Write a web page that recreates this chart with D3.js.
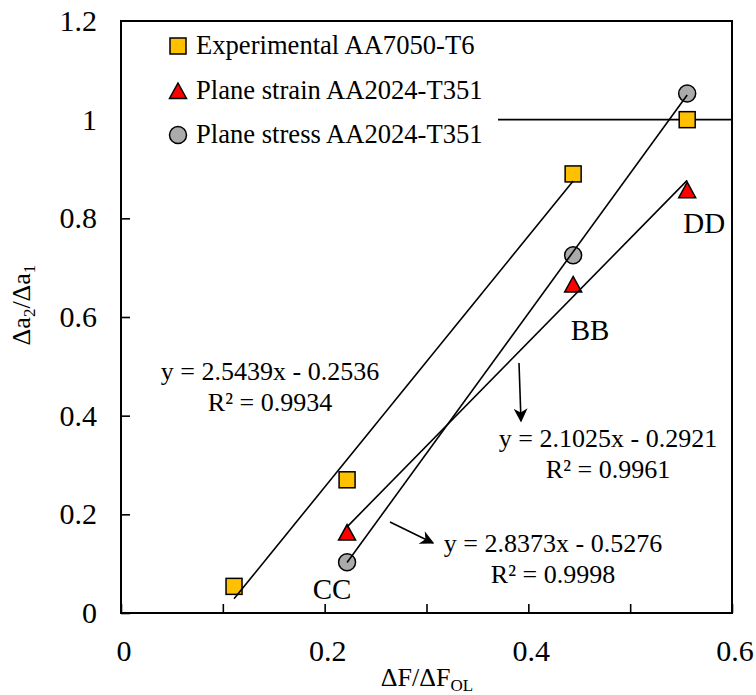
<!DOCTYPE html>
<html>
<head>
<meta charset="utf-8">
<script src="https://cdn.jsdelivr.net/npm/d3@7/dist/d3.min.js"></script>
<style>
  html, body { margin: 0; padding: 0; background: #fff; }
  svg { display: block; }
  svg text { font-family: "Liberation Serif", "DejaVu Serif", serif; }
</style>
</head>
<body>
<svg id="chart" width="756" height="695"></svg>
<script>
// Measured crack-growth ratios against load-drop ratio
const expX = [0.111, 0.222, 0.444, 0.556];
const expY = [0.054, 0.27, 0.89, 1.0];
const strainX = [0.222, 0.444, 0.556];
const strainY = [0.163, 0.666, 0.857];
const stressX = [0.222, 0.444, 0.556];
const stressY = [0.103, 0.725, 1.053];

// Linear fits: experimental (first three tests), plane strain, plane stress
const fitSlopes = [2.5439, 2.1025, 2.8373];
const fitIntercepts = [-0.2536, -0.2921, -0.5276];
const fitR2 = ["0.9934", "0.9961", "0.9998"];
const fitFrom = [0.111, 0.222, 0.222];
const fitTo = [0.444, 0.556, 0.556];

const seriesNames = ["Experimental AA7050-T6", "Plane strain AA2024-T351", "Plane stress AA2024-T351"];
const xTicks = [0, 0.1, 0.2, 0.3, 0.4, 0.5, 0.6];
const xTickLabels = ["0", "", "0.2", "", "0.4", "", "0.6"];
const yTicks = [0, 0.2, 0.4, 0.6, 0.8, 1.0, 1.2];
const yTickLabels = ["0", "0.2", "0.4", "0.6", "0.8", "1", "1.2"];
const pointLabels = ["CC", "BB", "DD"];
const pointLabelX = [0.222, 0.444, 0.556];
const refLevel = 1.0;

(function draw() {
  const svg = d3.select("#chart");
  const mLeft = 121, mRight = 732, mTop = 21, mBottom = 613;

  const x = d3.scaleLinear().domain([0, 0.6]).range([mLeft, mRight]);
  const y = d3.scaleLinear().domain([0, 1.2]).range([mBottom, mTop]);

  const fill = { sq: "#FFC000", tri: "#FF0000", circ: "#ABABAB" };

  // reference line at ratio 1
  svg.append("line")
    .attr("x1", x(0)).attr("x2", x(0.6))
    .attr("y1", y(refLevel)).attr("y2", y(refLevel))
    .attr("stroke", "#000").attr("stroke-width", 1.6);

  // axes with inward ticks
  const xAxis = d3.axisBottom(x).tickValues(xTicks).tickSize(-9).tickFormat("");
  svg.append("g").attr("transform", `translate(0,${mBottom})`).call(xAxis)
    .call(g => g.select(".domain").remove())
    .call(g => g.selectAll(".tick line").attr("stroke", "#000").attr("stroke-width", 1.6));
  const yAxis = d3.axisLeft(y).tickValues(yTicks).tickSize(-9).tickFormat("");
  svg.append("g").attr("transform", `translate(${mLeft},0)`).call(yAxis)
    .call(g => g.select(".domain").remove())
    .call(g => g.selectAll(".tick line").attr("stroke", "#000").attr("stroke-width", 1.6));

  // tick labels
  svg.append("g").selectAll("text").data(xTicks).join("text")
    .attr("x", d => x(d) + 3).attr("y", 661)
    .attr("text-anchor", "middle").attr("font-size", 30)
    .text((d, i) => xTickLabels[i]);
  svg.append("g").selectAll("text").data(yTicks).join("text")
    .attr("x", 97).attr("y", d => y(d) + 10)
    .attr("text-anchor", "end").attr("font-size", 30)
    .text((d, i) => yTickLabels[i]);

  // axis titles
  const xt = svg.append("text").attr("x", 427).attr("y", 686)
    .attr("text-anchor", "middle").attr("font-size", 26);
  xt.append("tspan").text("\u0394F/\u0394F");
  xt.append("tspan").attr("font-size", 17).attr("dy", 5).text("OL");

  const yt = svg.append("text").attr("transform", "translate(30,305) rotate(-90)")
    .attr("text-anchor", "middle").attr("font-size", 26);
  yt.append("tspan").text("\u0394a");
  yt.append("tspan").attr("font-size", 17).attr("dy", 5).text("2");
  yt.append("tspan").attr("dy", -5).text("/\u0394a");
  yt.append("tspan").attr("font-size", 17).attr("dy", 5).text("1");

  // legend box (white background hides the reference line beneath it)
  svg.append("rect").attr("x", mLeft + 1).attr("y", mTop + 1)
    .attr("width", 498 - mLeft - 1).attr("height", 135).attr("fill", "#fff");

  // marker shapes
  function square(g, cx, cy) {
    g.append("rect").attr("x", cx - 8).attr("y", cy - 8).attr("width", 16).attr("height", 16)
      .attr("fill", fill.sq).attr("stroke", "#000").attr("stroke-width", 1.5);
  }
  function triangle(g, cx, cy) {
    g.append("path")
      .attr("d", `M${cx},${cy - 8}L${cx + 8.5},${cy + 7.5}L${cx - 8.5},${cy + 7.5}Z`)
      .attr("fill", fill.tri).attr("stroke", "#000").attr("stroke-width", 1.5);
  }
  function circle(g, cx, cy) {
    g.append("circle").attr("cx", cx).attr("cy", cy).attr("r", 8.5)
      .attr("fill", fill.circ).attr("stroke", "#000").attr("stroke-width", 1.5);
  }

  // legend entries
  const leg = svg.append("g");
  const legShapes = [square, triangle, circle];
  const legY = [46, 91, 135];
  seriesNames.forEach((name, i) => {
    legShapes[i](leg, 178, legY[i]);
    leg.append("text").attr("x", 196).attr("y", legY[i] + 8)
      .attr("font-size", 26.6).text(name);
  });

  // data markers
  const pts = svg.append("g");
  expX.forEach((d, i) => square(pts, x(d), y(expY[i])));
  strainX.forEach((d, i) => triangle(pts, x(d), y(strainY[i])));
  stressX.forEach((d, i) => circle(pts, x(d), y(stressY[i])));

  // trend lines
  const fitG = svg.append("g");
  fitSlopes.forEach((m, i) => {
    const a = fitFrom[i], b = fitTo[i], c = fitIntercepts[i];
    fitG.append("line")
      .attr("x1", x(a)).attr("y1", y(m * a + c))
      .attr("x2", x(b)).attr("y2", y(m * b + c))
      .attr("stroke", "#000").attr("stroke-width", 1.6);
  });

  // fit equations
  const eqPos = [[270, 380], [608, 447], [553, 552]];
  fitSlopes.forEach((m, i) => {
    const [ex, ey] = eqPos[i];
    const sign = fitIntercepts[i] < 0 ? "-" : "+";
    svg.append("text").attr("x", ex).attr("y", ey).attr("text-anchor", "middle").attr("font-size", 26)
      .text(`y = ${m.toFixed(4)}x ${sign} ${Math.abs(fitIntercepts[i]).toFixed(4)}`);
    svg.append("text").attr("x", ex).attr("y", ey + 31).attr("text-anchor", "middle").attr("font-size", 26)
      .text(`R\u00B2 = ${fitR2[i]}`);
  });

  // arrows pointing from fits to their equations
  svg.append("defs").append("marker").attr("id", "head").attr("viewBox", "0 0 10 10")
    .attr("refX", 9).attr("refY", 5)
    .attr("markerUnits", "userSpaceOnUse").attr("orient", "auto")
    .attr("markerWidth", 16).attr("markerHeight", 14)
    .append("path").attr("d", "M0,0L10,5L0,10L3,5Z").attr("fill", "#000");
  const arrows = [[519, 363, 521, 421], [390, 522, 433, 543]];
  arrows.forEach(([x1, y1, x2, y2]) => {
    svg.append("line").attr("x1", x1).attr("y1", y1).attr("x2", x2).attr("y2", y2)
      .attr("stroke", "#000").attr("stroke-width", 1.6).attr("marker-end", "url(#head)");
  });

  // point labels
  const labDx = [-15, 17, 17];
  const labY = [599, 340, 233];
  pointLabels.forEach((t, i) => {
    svg.append("text").attr("x", x(pointLabelX[i]) + labDx[i]).attr("y", labY[i])
      .attr("text-anchor", "middle").attr("font-size", 29).text(t);
  });

  // plot frame
  svg.append("rect").attr("x", mLeft).attr("y", mTop)
    .attr("width", mRight - mLeft).attr("height", mBottom - mTop)
    .attr("fill", "none").attr("stroke", "#000").attr("stroke-width", 2);
})();
</script>
</body>
</html>
